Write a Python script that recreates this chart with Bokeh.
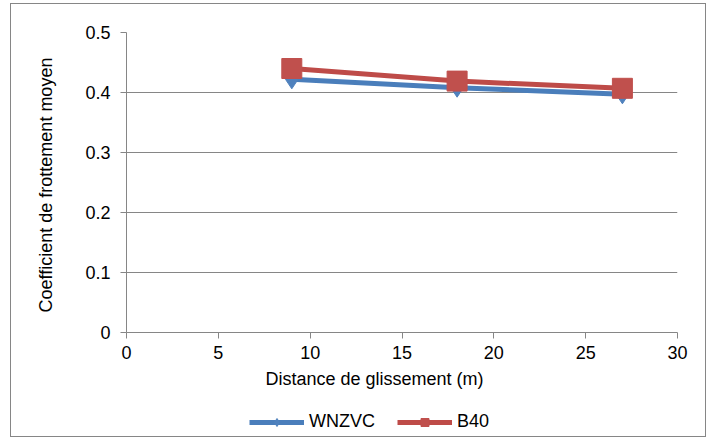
from bokeh.plotting import figure
from bokeh.layouts import column
from bokeh.models import Legend, LegendItem, Title, FixedTicker, Range1d
from bokeh.embed import file_html
from bokeh.resources import INLINE

# ---- data ----
distance = [9, 18, 27]
wnzvc = [0.422, 0.408, 0.397]
b40 = [0.440, 0.419, 0.407]

x_ticks = [0, 5, 10, 15, 20, 25, 30]
y_ticks = [0, 0.1, 0.2, 0.3, 0.4, 0.5]
y_tick_labels = ["0", "0.1", "0.2", "0.3", "0.4", "0.5"]

x_title = "Distance de glissement (m)"
y_title = "Coefficient de frottement  moyen"
series_names = ["WNZVC", "B40"]

FONT = "Liberation Sans"
FS = "18px"
GRID = "#868686"
BLUE_LINE, BLUE_MARK = "#4A7EBB", "#4F81BD"
RED_LINE, RED_MARK = "#BE4B48", "#C0504D"

W = 694

# ---- main chart ----
p = figure(width=W, height=396, output_backend="svg", toolbar_location=None,
           x_range=Range1d(0, 30), y_range=Range1d(0, 0.5),
           min_border_left=115, min_border_right=28, min_border_top=28,
           min_border_bottom=68)
p.outline_line_color = None
p.background_fill_color = "white"
p.border_fill_color = "white"

p.xgrid.grid_line_color = None
p.ygrid.grid_line_color = GRID
p.ygrid.grid_line_width = 1

p.xaxis.ticker = FixedTicker(ticks=x_ticks)
p.yaxis.ticker = FixedTicker(ticks=y_ticks)
p.yaxis.major_label_overrides = {t: l for t, l in zip(y_ticks, y_tick_labels)}

for ax in (p.xaxis, p.yaxis):
    ax.axis_line_color = GRID
    ax.axis_line_width = 1
    ax.major_tick_line_color = GRID
    ax.major_tick_in = 0
    ax.major_tick_out = 6
    ax.minor_tick_line_color = None
    ax.major_label_text_font = FONT
    ax.major_label_text_font_size = FS
    ax.major_label_text_color = "black"
    ax.axis_label_text_font = FONT
    ax.axis_label_text_font_size = FS
    ax.axis_label_text_font_style = "normal"
    ax.axis_label_text_color = "black"

p.xaxis.major_label_standoff = 7
p.yaxis.major_label_standoff = 10
p.yaxis.axis_label = y_title
p.yaxis.axis_label_standoff = 26

xt = Title(text=x_title, align="left", offset=139, text_font=FONT,
           text_font_size=FS, text_font_style="normal", text_color="black",
           standoff=10)
p.add_layout(xt, "below")

p.line(distance, wnzvc, line_color=BLUE_LINE, line_width=5)
p.scatter(distance, wnzvc, marker="diamond", size=19,
          fill_color=BLUE_MARK, line_color=BLUE_MARK)
p.line(distance, b40, line_color=RED_LINE, line_width=5)
p.scatter(distance, b40, marker="square", size=20,
          fill_color=RED_MARK, line_color=RED_MARK)

# ---- legend strip (same series, legend only) ----
lp = figure(width=W, height=36, output_backend="svg", toolbar_location=None,
            x_range=Range1d(100, 101), y_range=Range1d(100, 101),
            x_axis_type=None, y_axis_type=None,
            min_border_left=0, min_border_right=0, min_border_top=0,
            min_border_bottom=0)
lp.outline_line_color = None
lp.grid.grid_line_color = None
lp.background_fill_color = "white"
lp.border_fill_color = "white"

l1 = lp.line(distance, wnzvc, line_color=BLUE_LINE, line_width=5)
m1 = lp.scatter(distance, wnzvc, marker="diamond", size=19,
                fill_color=BLUE_MARK, line_color=BLUE_MARK)
l2 = lp.line(distance, b40, line_color=RED_LINE, line_width=5)
m2 = lp.scatter(distance, b40, marker="square", size=20,
                fill_color=RED_MARK, line_color=RED_MARK)

legend = Legend(items=[LegendItem(label=series_names[0], renderers=[l1, m1]),
                       LegendItem(label=series_names[1], renderers=[l2, m2])],
                orientation="horizontal", location=(123, 4),
                glyph_width=55, glyph_height=20, label_standoff=5, spacing=22,
                padding=4, margin=0, border_line_color=None,
                background_fill_alpha=0,
                label_text_font=FONT, label_text_font_size=FS,
                label_text_color="black")
lp.add_layout(legend, "center")

layout = column(p, lp, spacing=0,
                styles={"border": "1px solid #868686", "position": "relative",
                        "left": "10px", "top": "3px"})

open("out.html", "w").write(file_html(layout, INLINE))
